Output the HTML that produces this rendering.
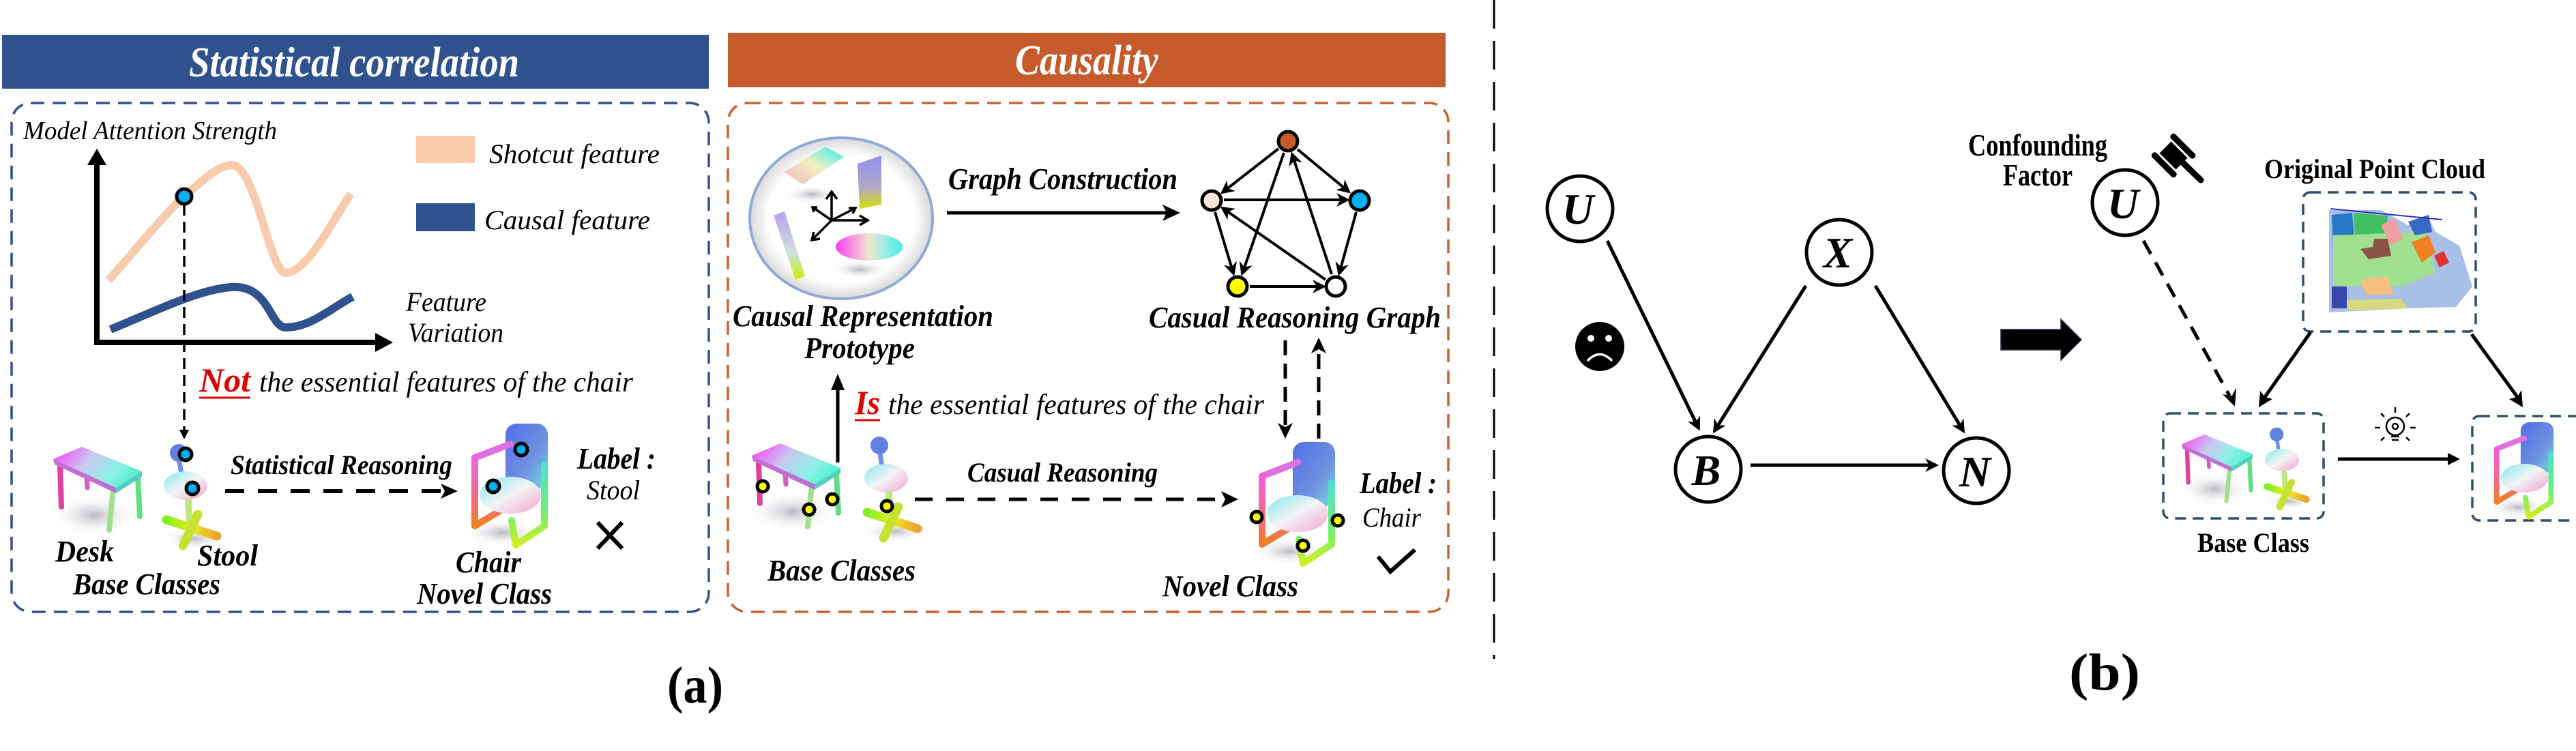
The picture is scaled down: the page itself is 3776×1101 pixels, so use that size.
<!DOCTYPE html>
<html><head><meta charset="utf-8"><style>
html,body{margin:0;padding:0;background:#fff;}
svg{display:block;font-family:"Liberation Serif","DejaVu Serif","Times New Roman",serif;}
svg text{font-family:"Liberation Serif","DejaVu Serif","Times New Roman",serif;}
.bi{font-weight:bold;font-style:italic;}
.it{font-style:italic;}
</style></head><body>
<svg width="3776" height="1101" viewBox="0 0 3776 1101" xmlns="http://www.w3.org/2000/svg" font-family="'Liberation Serif', 'DejaVu Serif', serif">
<defs>
<marker id="a" viewBox="0 0 10 10" refX="8" refY="5" markerWidth="5" markerHeight="5" orient="auto"><path d="M0,0 L10,5 L0,10 L3,5 z" fill="#000"/></marker>
<marker id="a2" viewBox="0 0 10 10" refX="8" refY="5" markerWidth="4" markerHeight="4" orient="auto"><path d="M0,0 L10,5 L0,10 L3,5 z" fill="#000"/></marker>
<linearGradient id="gDesk" x1="0" y1="0" x2="1" y2="0.4"><stop offset="0" stop-color="#ff30ff"/><stop offset="0.45" stop-color="#c8c8f0"/><stop offset="0.8" stop-color="#8ef0e8"/><stop offset="1" stop-color="#60f0d0"/></linearGradient>
<linearGradient id="gSeat" x1="0" y1="0" x2="1" y2="1"><stop offset="0" stop-color="#80e8f0"/><stop offset="0.5" stop-color="#f4f4f4"/><stop offset="1" stop-color="#f0a0d0"/></linearGradient>
<linearGradient id="gBack" x1="0" y1="0" x2="1" y2="1"><stop offset="0" stop-color="#5070e8"/><stop offset="0.6" stop-color="#7090e0"/><stop offset="1" stop-color="#70e0e0"/></linearGradient>
<linearGradient id="gLeft" x1="0" y1="0" x2="0" y2="1"><stop offset="0" stop-color="#f060e0"/><stop offset="0.7" stop-color="#f07070"/><stop offset="1" stop-color="#f08020"/></linearGradient>
<linearGradient id="gRight" x1="0" y1="0" x2="0" y2="1"><stop offset="0" stop-color="#50e0d0"/><stop offset="0.6" stop-color="#70f070"/><stop offset="1" stop-color="#d0f020"/></linearGradient>
<linearGradient id="gBase" x1="0" y1="0" x2="1" y2="0"><stop offset="0" stop-color="#80f020"/><stop offset="0.5" stop-color="#e8f020"/><stop offset="1" stop-color="#f0a030"/></linearGradient>
<linearGradient id="gCol" x1="0" y1="0" x2="0" y2="1"><stop offset="0" stop-color="#b8a0f0"/><stop offset="0.6" stop-color="#d0e0e0"/><stop offset="1" stop-color="#c8f000"/></linearGradient>
<linearGradient id="gDisc" x1="0" y1="0" x2="1" y2="0"><stop offset="0" stop-color="#ff40f0"/><stop offset="0.5" stop-color="#f0e8d0"/><stop offset="1" stop-color="#40f0f0"/></linearGradient>
<linearGradient id="gSlab" x1="0" y1="1" x2="1" y2="0"><stop offset="0" stop-color="#f8b0c0"/><stop offset="0.5" stop-color="#f0f0c0"/><stop offset="1" stop-color="#30f0f0"/></linearGradient>
<linearGradient id="gBoard" x1="0" y1="0" x2="0" y2="1"><stop offset="0" stop-color="#9090f0"/><stop offset="0.6" stop-color="#b0a8c8"/><stop offset="1" stop-color="#d8e000"/></linearGradient>
<radialGradient id="gShadow"><stop offset="0" stop-color="#8a8a9a" stop-opacity="0.6"/><stop offset="1" stop-color="#ffffff" stop-opacity="0"/></radialGradient>
<radialGradient id="gProto"><stop offset="0.8" stop-color="#ffffff"/><stop offset="1" stop-color="#d8d8d8"/></radialGradient>
<g id="desk">
<ellipse cx="60" cy="100" rx="65" ry="30" fill="url(#gShadow)"/>
<line x1="10" y1="28" x2="12" y2="88" stroke="#e040a0" stroke-width="8" stroke-linecap="round"/>
<line x1="48" y1="25" x2="50" y2="60" stroke="#d060c0" stroke-width="7" stroke-linecap="round"/>
<line x1="88" y1="60" x2="82" y2="122" stroke="#a0e090" stroke-width="8" stroke-linecap="round"/>
<line x1="124" y1="45" x2="127" y2="102" stroke="#60e080" stroke-width="8" stroke-linecap="round"/>
<polygon points="0,18 42,0 130,36 92,60" fill="url(#gDesk)"/>
<polygon points="0,18 92,60 92,68 2,26" fill="#c070d0"/>
<polygon points="92,60 130,36 130,44 92,68" fill="#50d0c0"/>
</g>
<g id="stool">
<ellipse cx="45" cy="140" rx="45" ry="16" fill="url(#gShadow)"/>
<circle cx="22" cy="14" r="13" fill="#6080e0"/>
<line x1="23" y1="26" x2="26" y2="46" stroke="#7090e0" stroke-width="7"/>
<ellipse cx="32" cy="62" rx="32" ry="21" fill="url(#gSeat)"/>
<line x1="36" y1="82" x2="38" y2="118" stroke="#c0e880" stroke-width="10"/>
<line x1="4" y1="112" x2="78" y2="136" stroke="url(#gBase)" stroke-width="13" stroke-linecap="round"/>
<line x1="28" y1="150" x2="50" y2="104" stroke="#c8e030" stroke-width="13" stroke-linecap="round"/>
</g>
<g id="chair">
<ellipse cx="50" cy="160" rx="55" ry="20" fill="url(#gShadow)"/>
<rect x="55" y="0" width="62" height="95" rx="16" fill="url(#gBack)"/>
<polyline points="10,50 62,30" fill="none" stroke="#e070e0" stroke-width="10" stroke-linecap="round"/>
<polyline points="10,50 10,150 50,126" fill="none" stroke="url(#gLeft)" stroke-width="10" stroke-linejoin="round" stroke-linecap="round"/>
<ellipse cx="62" cy="105" rx="45" ry="27" fill="url(#gSeat)"/>
<polyline points="112,60 112,150 70,178 64,142" fill="none" stroke="url(#gRight)" stroke-width="10" stroke-linejoin="round" stroke-linecap="round"/>
</g>
</defs>

<!-- ============ (a) left ============ -->
<rect x="3" y="51" width="1036" height="79" fill="#2f528f"/>
<text x="519" y="112" text-anchor="middle" class="bi" font-size="62" fill="#fff" textLength="484" lengthAdjust="spacingAndGlyphs">Statistical correlation</text>
<rect x="17" y="151" width="1022" height="746" rx="28" fill="none" stroke="#2f528f" stroke-width="3.5" stroke-dasharray="20 12"/>

<text x="34" y="204" class="it" font-size="38" textLength="372" lengthAdjust="spacingAndGlyphs">Model Attention Strength</text>
<rect x="610" y="199" width="86" height="40" fill="#f7cbac"/>
<text x="717" y="239" class="it" font-size="40" textLength="250" lengthAdjust="spacingAndGlyphs">Shotcut feature</text>
<rect x="610" y="298" width="86" height="41" fill="#2f528f"/>
<text x="710" y="336" class="it" font-size="40" textLength="243" lengthAdjust="spacingAndGlyphs">Causal feature</text>

<path d="M159,411 C200,365 240,315 270,288 C300,262 320,242 340,242 C375,242 395,400 419,400 C450,400 490,320 514,284" fill="none" stroke="#f7cbac" stroke-width="12"/>
<path d="M162,483 C230,455 290,425 338,421 C395,416 395,480 419,480 C455,480 485,452 517,435" fill="none" stroke="#2f528f" stroke-width="12"/>
<line x1="142" y1="502" x2="142" y2="240" stroke="#000" stroke-width="8"/>
<polygon points="142,218 128,242 156,242" fill="#000"/>
<line x1="138" y1="502" x2="555" y2="502" stroke="#000" stroke-width="8"/>
<polygon points="576,502 550,488 550,516" fill="#000"/>
<line x1="270" y1="300" x2="270" y2="632" stroke="#000" stroke-width="3.5" stroke-dasharray="16 9"/>
<polygon points="270,644 263,630 277,630" fill="#000"/>
<circle cx="270" cy="288" r="11" fill="#00b0f0" stroke="#000" stroke-width="5"/>

<text x="595" y="456" class="it" font-size="40" textLength="118" lengthAdjust="spacingAndGlyphs">Feature</text>
<text x="598" y="501" class="it" font-size="40" textLength="140" lengthAdjust="spacingAndGlyphs">Variation</text>

<text x="292" y="574" class="bi" font-size="50" fill="#e00000" textLength="75" lengthAdjust="spacingAndGlyphs">Not</text>
<line x1="292" y1="583" x2="367" y2="583" stroke="#e00000" stroke-width="3"/>
<text x="380" y="574" class="it" font-size="42" textLength="548" lengthAdjust="spacingAndGlyphs">the essential features of the chair</text>

<use href="#desk" x="78" y="655"/>
<use href="#stool" x="240" y="650"/>
<circle cx="272" cy="666" r="9" fill="#00b0f0" stroke="#000" stroke-width="5"/>
<circle cx="282" cy="716" r="9" fill="#00b0f0" stroke="#000" stroke-width="5"/>
<use href="#chair" x="686" y="621"/>
<circle cx="764" cy="659" r="9" fill="#00b0f0" stroke="#000" stroke-width="5"/>
<circle cx="723" cy="713" r="9" fill="#00b0f0" stroke="#000" stroke-width="5"/>

<text x="338" y="695" class="bi" font-size="40" textLength="325" lengthAdjust="spacingAndGlyphs">Statistical Reasoning</text>
<line x1="330" y1="720" x2="655" y2="720" stroke="#000" stroke-width="6" stroke-dasharray="28 20"/>
<polygon points="671,720 646,709 652,720 646,731" fill="#000"/>

<text x="846" y="687" class="bi" font-size="44" textLength="115" lengthAdjust="spacingAndGlyphs">Label :</text>
<text x="860" y="732" class="it" font-size="40" textLength="78" lengthAdjust="spacingAndGlyphs">Stool</text>
<path d="M876,766 L912,804 M912,766 L876,804" stroke="#000" stroke-width="6"/>

<text x="81" y="823" class="bi" font-size="44" textLength="86" lengthAdjust="spacingAndGlyphs">Desk</text>
<text x="289" y="829" class="bi" font-size="44" textLength="89" lengthAdjust="spacingAndGlyphs">Stool</text>
<text x="107" y="871" class="bi" font-size="44" textLength="216" lengthAdjust="spacingAndGlyphs">Base Classes</text>
<text x="668" y="839" class="bi" font-size="44" textLength="96" lengthAdjust="spacingAndGlyphs">Chair</text>
<text x="611" y="885" class="bi" font-size="44" textLength="198" lengthAdjust="spacingAndGlyphs">Novel Class</text>

<text x="978" y="1030" font-weight="bold" font-size="76" textLength="82" lengthAdjust="spacingAndGlyphs">(a)</text>

<!-- ============ (a) right ============ -->
<rect x="1067" y="48" width="1052" height="80" fill="#c55a2b"/>
<text x="1593" y="109" text-anchor="middle" class="bi" font-size="62" fill="#fff" textLength="210" lengthAdjust="spacingAndGlyphs">Causality</text>
<rect x="1067" y="151" width="1056" height="746" rx="28" fill="none" stroke="#c8632f" stroke-width="3.5" stroke-dasharray="20 12"/>

<ellipse cx="1233" cy="320" rx="134" ry="118" fill="url(#gProto)" stroke="#8eaadb" stroke-width="4"/>
<ellipse cx="1190" cy="285" rx="40" ry="14" fill="url(#gShadow)"/>
<polygon points="1149,252 1210,215 1237,230 1177,270" fill="url(#gSlab)"/>
<polygon points="1257,240 1292,228 1292,300 1260,306" fill="url(#gBoard)"/>
<polygon points="1134,316 1150,310 1180,405 1166,410" fill="url(#gCol)"/>
<ellipse cx="1260" cy="395" rx="45" ry="14" fill="url(#gShadow)"/>
<ellipse cx="1274" cy="362" rx="49" ry="20" fill="url(#gDisc)"/>
<g stroke="#000" stroke-width="3.5" fill="none">
<path d="M1219,323 L1219,283 M1211,292 L1219,281 L1227,292"/>
<path d="M1219,323 L1270,323 M1260,316 L1272,323 L1260,330"/>
<path d="M1219,323 L1192,350 M1193,340 L1190,352 L1202,350"/>
<path d="M1219,323 L1193,305 M1198,304 L1191,304 L1193,311"/>
<path d="M1219,323 L1252,306 M1244,305 L1254,305 L1250,313"/>
</g>

<text x="1074" y="478" class="bi" font-size="44" textLength="382" lengthAdjust="spacingAndGlyphs">Causal Representation</text>
<text x="1179" y="525" class="bi" font-size="44" textLength="162" lengthAdjust="spacingAndGlyphs">Prototype</text>

<text x="1390" y="277" class="bi" font-size="44" textLength="336" lengthAdjust="spacingAndGlyphs">Graph Construction</text>
<line x1="1388" y1="312" x2="1712" y2="312" stroke="#000" stroke-width="5"/>
<polygon points="1730,312 1704,300 1710,312 1704,324" fill="#000"/>

<g stroke="#000" stroke-width="4" marker-end="url(#a)">
<line x1="1874" y1="218" x2="1792" y2="282"/>
<line x1="1902" y1="219" x2="1977" y2="281"/>
<line x1="1794" y1="293" x2="1975" y2="293"/>
<line x1="1882" y1="224" x2="1821" y2="401"/>
<line x1="1952" y1="402" x2="1894" y2="226"/>
<line x1="1781" y1="311" x2="1808" y2="401"/>
<line x1="1988" y1="311" x2="1963" y2="401"/>
<line x1="1943" y1="410" x2="1792" y2="305"/>
<line x1="1832" y1="420" x2="1940" y2="420"/>
</g>
<circle cx="1888" cy="207" r="14" fill="#c55a2b" stroke="#000" stroke-width="5"/>
<circle cx="1776" cy="294" r="14" fill="#fbe5d6" stroke="#000" stroke-width="5"/>
<circle cx="1993" cy="294" r="14" fill="#00b0f0" stroke="#000" stroke-width="5"/>
<circle cx="1814" cy="420" r="14" fill="#ffff00" stroke="#000" stroke-width="5"/>
<circle cx="1958" cy="420" r="14" fill="#ffffff" stroke="#000" stroke-width="5"/>
<text x="1684" y="480" class="bi" font-size="44" textLength="428" lengthAdjust="spacingAndGlyphs">Casual Reasoning Graph</text>

<line x1="1884" y1="499" x2="1884" y2="630" stroke="#000" stroke-width="5" stroke-dasharray="22 12"/>
<polygon points="1884,643 1873,620 1884,626 1895,620" fill="#000"/>
<line x1="1933" y1="643" x2="1933" y2="510" stroke="#000" stroke-width="5" stroke-dasharray="22 12"/>
<polygon points="1933,495 1922,518 1933,512 1944,518" fill="#000"/>

<line x1="1228" y1="678" x2="1228" y2="565" stroke="#000" stroke-width="5"/>
<polygon points="1228,548 1218,572 1238,572" fill="#000"/>
<text x="1253" y="607" class="bi" font-size="50" fill="#e00000" textLength="37" lengthAdjust="spacingAndGlyphs">Is</text>
<line x1="1253" y1="616" x2="1290" y2="616" stroke="#e00000" stroke-width="3"/>
<text x="1302" y="607" class="it" font-size="42" textLength="551" lengthAdjust="spacingAndGlyphs">the essential features of the chair</text>

<use href="#desk" x="1102" y="650"/>
<use href="#stool" x="1267" y="639"/>
<g fill="#ffff00" stroke="#000" stroke-width="5">
<circle cx="1118" cy="713" r="8"/><circle cx="1186" cy="747" r="8"/><circle cx="1220" cy="732" r="8"/><circle cx="1300" cy="742" r="8"/>
</g>
<text x="1418" y="706" class="bi" font-size="40" textLength="279" lengthAdjust="spacingAndGlyphs">Casual Reasoning</text>
<line x1="1341" y1="732" x2="1800" y2="732" stroke="#000" stroke-width="5" stroke-dasharray="26 20"/>
<polygon points="1815,732 1790,720 1796,732 1790,744" fill="#000"/>
<use href="#chair" x="1840" y="648"/>
<g fill="#ffff00" stroke="#000" stroke-width="5">
<circle cx="1842" cy="758" r="8"/><circle cx="1961" cy="763" r="8"/><circle cx="1910" cy="800" r="8"/>
</g>
<text x="1993" y="723" class="bi" font-size="44" textLength="113" lengthAdjust="spacingAndGlyphs">Label :</text>
<text x="1997" y="772" class="it" font-size="40" textLength="86" lengthAdjust="spacingAndGlyphs">Chair</text>
<path d="M2020,816 L2038,838 L2074,806" fill="none" stroke="#000" stroke-width="6"/>
<text x="1125" y="851" class="bi" font-size="44" textLength="217" lengthAdjust="spacingAndGlyphs">Base Classes</text>
<text x="1704" y="874" class="bi" font-size="44" textLength="199" lengthAdjust="spacingAndGlyphs">Novel Class</text>

<!-- divider -->
<line x1="2190" y1="0" x2="2190" y2="966" stroke="#000" stroke-width="3" stroke-dasharray="42 18"/>

<!-- ============ (b) ============ -->
<g fill="#fff" stroke="#000" stroke-width="5">
<circle cx="2316" cy="306" r="48"/><circle cx="2696" cy="370" r="48"/><circle cx="2504" cy="688" r="48"/><circle cx="2897" cy="690" r="48"/>
</g>
<g class="bi" font-size="64" text-anchor="middle">
<text x="2313" y="328">U</text><text x="2694" y="392">X</text><text x="2501" y="711">B</text><text x="2895" y="713">N</text>
</g>
<g stroke="#000" stroke-width="5" marker-end="url(#a2)">
<line x1="2356" y1="353" x2="2490" y2="628"/>
<line x1="2647" y1="419" x2="2513" y2="632"/>
<line x1="2749" y1="419" x2="2878" y2="632"/>
<line x1="2566" y1="682" x2="2838" y2="682"/>
</g>
<circle cx="2345" cy="508" r="36" fill="#000"/>
<circle cx="2332" cy="496" r="5" fill="#fff"/><circle cx="2358" cy="496" r="5" fill="#fff"/>
<path d="M2327,529 Q2345,510 2363,529" fill="none" stroke="#fff" stroke-width="3.5"/>

<polygon points="2933,483 3021,483 3021,468 3051,498 3021,528 3021,513 2933,513" fill="#000" stroke="#1f2f4f" stroke-width="1.5"/>

<text x="2885" y="228" font-weight="bold" font-size="46" textLength="204" lengthAdjust="spacingAndGlyphs">Confounding</text>
<text x="2936" y="272" font-weight="bold" font-size="46" textLength="102" lengthAdjust="spacingAndGlyphs">Factor</text>
<circle cx="3115" cy="297" r="48" fill="#fff" stroke="#000" stroke-width="5"/>
<text x="3112" y="320" text-anchor="middle" class="bi" font-size="64">U</text>
<g transform="translate(3186,228) rotate(45)" fill="#000">
<rect x="-17" y="-12" width="34" height="24"/>
<rect x="-24" y="-24" width="48" height="9" rx="4"/>
<rect x="-24" y="15" width="48" height="9" rx="4"/>
</g>
<line x1="3196" y1="235" x2="3226" y2="264" stroke="#000" stroke-width="9" stroke-linecap="round"/>

<text x="3319" y="261" font-weight="bold" font-size="40" textLength="324" lengthAdjust="spacingAndGlyphs">Original Point Cloud</text>
<rect x="3376" y="282" width="253" height="204" rx="10" fill="none" stroke="#2f4f6f" stroke-width="3.5" stroke-dasharray="16 10"/>
<g>
<polygon points="3414,308 3490,308 3530,330 3560,320 3570,340 3605,360 3624,420 3600,450 3530,452 3414,458" fill="#a8c0e8"/>
<polygon points="3418,315 3448,312 3452,360 3420,365" fill="#2878c8"/>
<polygon points="3450,312 3500,316 3498,345 3452,345" fill="#40c060"/>
<polygon points="3420,345 3555,340 3570,400 3520,420 3420,420" fill="#a0e090"/>
<polygon points="3460,365 3478,362 3480,350 3500,350 3505,375 3472,380" fill="#8a5548"/>
<polygon points="3535,355 3560,345 3570,370 3550,385" fill="#f08020"/>
<polygon points="3568,375 3582,368 3590,385 3576,392" fill="#e03030"/>
<polygon points="3490,330 3510,320 3522,350 3505,360" fill="#f0a0a0"/>
<polygon points="3460,410 3500,405 3508,432 3468,432" fill="#f8c080"/>
<polygon points="3418,420 3440,420 3440,452 3418,452" fill="#3848b0"/>
<polygon points="3440,440 3520,438 3530,452 3440,455" fill="#d8d880"/>
<polygon points="3530,325 3560,315 3565,340 3540,345" fill="#3868c0"/>
<line x1="3416" y1="306" x2="3580" y2="322" stroke="#3030c0" stroke-width="2"/>
</g>

<line x1="3142" y1="353" x2="3268" y2="580" stroke="#000" stroke-width="5" stroke-dasharray="22 14"/>
<polygon points="3276,596 3258,578 3272,580 3278,568" fill="#000"/>
<line x1="3387" y1="487" x2="3320" y2="582" stroke="#000" stroke-width="5"/>
<polygon points="3311,597 3313,573 3320,582 3331,585" fill="#000"/>
<line x1="3623" y1="490" x2="3690" y2="582" stroke="#000" stroke-width="5"/>
<polygon points="3698,597 3678,585 3690,582 3696,572" fill="#000"/>

<rect x="3171" y="606" width="235" height="154" rx="10" fill="none" stroke="#2f4f6f" stroke-width="3.5" stroke-dasharray="16 10"/>
<g transform="translate(3198,637) scale(0.8)"><use href="#desk"/></g>
<g transform="translate(3320,626) scale(0.78)"><use href="#stool"/></g>
<text x="3221" y="809" font-weight="bold" font-size="40" textLength="164" lengthAdjust="spacingAndGlyphs">Base Class</text>

<line x1="3427" y1="673" x2="3592" y2="673" stroke="#000" stroke-width="5"/>
<polygon points="3606,673 3588,664 3588,682" fill="#000"/>
<g stroke="#000" stroke-width="2.5" fill="none">
<circle cx="3511" cy="625" r="13"/>
<circle cx="3511" cy="625" r="4"/>
<path d="M3505,640 L3517,640 M3506,645 L3516,645"/>
<path d="M3511,597 L3511,605 M3490,606 L3495,611 M3532,606 L3527,611 M3481,627 L3489,627 M3533,627 L3541,627 M3490,646 L3495,641 M3532,646 L3527,641"/>
</g>

<rect x="3624" y="610" width="160" height="153" rx="10" fill="none" stroke="#2f4f6f" stroke-width="3.5" stroke-dasharray="16 10"/>
<g transform="translate(3652,619) scale(0.78)"><use href="#chair"/></g>

<text x="3033" y="1011" font-weight="bold" font-size="76" textLength="104" lengthAdjust="spacingAndGlyphs">(b)</text>
</svg>
</body></html>
